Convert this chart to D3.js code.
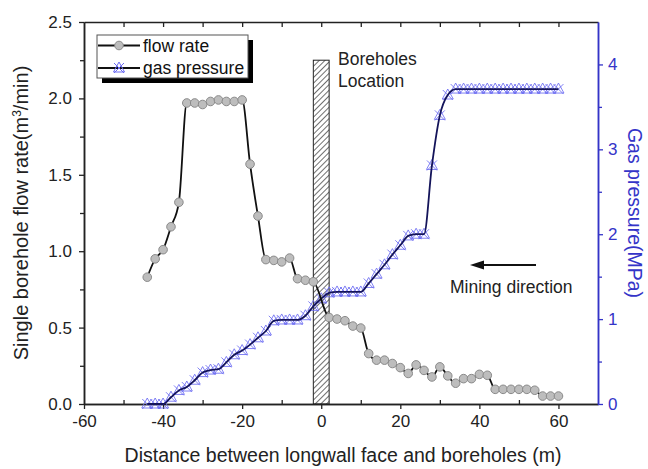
<!DOCTYPE html>
<html>
<head>
<meta charset="utf-8">
<script src="https://cdn.jsdelivr.net/npm/d3@7/dist/d3.min.js"></script>
<style>
  html, body { margin: 0; padding: 0; background: #fff; }
  svg { display: block; font-family: "Liberation Sans", Arial, Helvetica, sans-serif; }
</style>
</head>
<body>
<svg id="chart" width="648" height="469"></svg>
<script>
// Distance between longwall face and boreholes (m)
const flowDistance = [-44, -42, -40, -38, -36, -34, -32, -30, -28, -26, -24, -22, -20, -18, -16, -14, -12, -10, -8, -6, -4, -2,
  2, 4, 6, 8, 10, 12, 14, 16, 18, 20, 22, 24, 26, 28, 30, 32, 34, 36, 38, 40, 42, 44, 46, 48, 50, 52, 54, 56, 58, 60];
// Single borehole flow rate (m3/min)
const flowRate = [0.83, 0.95, 1.01, 1.16, 1.32, 1.97, 1.97, 1.96, 1.98, 1.99, 1.98, 1.98, 1.99, 1.57, 1.23, 0.945, 0.94, 0.93, 0.955, 0.82, 0.81, 0.80,
  0.566, 0.556, 0.545, 0.51, 0.497, 0.33, 0.287, 0.287, 0.265, 0.238, 0.20, 0.256, 0.22, 0.177, 0.243, 0.184, 0.136, 0.166, 0.166, 0.194, 0.188,
  0.096, 0.096, 0.096, 0.096, 0.096, 0.09, 0.052, 0.052, 0.052];

const gasDistance = [-44, -42, -40, -38, -36, -34, -32, -30, -28, -26, -24, -22, -20, -18, -16, -14, -12, -10, -8, -6, -4, -2, 0,
  2, 4, 6, 8, 10, 12, 14, 16, 18, 20, 22, 24, 26, 28, 30, 32, 34, 36, 38, 40, 42, 44, 46, 48, 50, 52, 54, 56, 58, 60];
// Gas pressure (MPa)
const gasPressure = [0, 0, 0, 0.08, 0.16, 0.2, 0.28, 0.37, 0.4, 0.41, 0.49, 0.58, 0.63, 0.7, 0.78, 0.86, 0.98, 0.99, 0.99, 0.99, 1.04, 1.15, 1.24,
  1.31, 1.32, 1.32, 1.32, 1.32, 1.42, 1.53, 1.64, 1.76, 1.87, 1.98, 2.0, 2.0, 2.81, 3.40, 3.64, 3.71, 3.71, 3.71, 3.71, 3.71, 3.71, 3.71, 3.71,
  3.71, 3.71, 3.71, 3.71, 3.71, 3.71];

const xTicks = [-60, -40, -20, 0, 20, 40, 60];
const xMinorTicks = [-50, -30, -10, 10, 30, 50];
const xTopTicks = [-50, -40, -30, -20, -10, 0, 10, 20, 30, 40, 50, 60];
const flowTicks = [0, 0.5, 1.0, 1.5, 2.0, 2.5];
const flowMinorTicks = [0.25, 0.75, 1.25, 1.75, 2.25];
const gasTicks = [0, 1, 2, 3, 4];
const gasMinorTicks = [0.5, 1.5, 2.5, 3.5];

// Boreholes location band: distance range and height on the flow-rate axis
const boreholeBand = [-2, 2];
const boreholeTop = 2.25;

const svg = d3.select("#chart");
const plot = { left: 84, right: 598, top: 22, bottom: 404 };
const blue = "#3434c8";

const x = d3.scaleLinear().domain([-60, 70]).range([plot.left, plot.right]);
const yFlow = d3.scaleLinear().domain([0, 2.5]).range([plot.bottom, plot.top]);
const yGas = d3.scaleLinear().domain([0, 4.5]).range([plot.bottom, plot.top]);

// hatch pattern for the borehole band
const defs = svg.append("defs");
const pat = defs.append("pattern")
  .attr("id", "hatch").attr("patternUnits", "userSpaceOnUse")
  .attr("width", 4).attr("height", 4)
  .attr("patternTransform", "rotate(45)");
pat.append("rect").attr("width", 4).attr("height", 4).attr("fill", "#fff");
pat.append("line").attr("x1", 0).attr("y1", 0).attr("x2", 0).attr("y2", 4)
  .attr("stroke", "#222").attr("stroke-width", 1.3);

svg.append("rect")
  .attr("x", x(boreholeBand[0])).attr("y", yFlow(boreholeTop))
  .attr("width", x(boreholeBand[1]) - x(boreholeBand[0]))
  .attr("height", yFlow(0) - yFlow(boreholeTop))
  .attr("fill", "url(#hatch)").attr("stroke", "#222").attr("stroke-width", 1);

// axes
const fontTick = 17;
const hyphenFormat = d => (d < 0 ? "-" : "") + Math.abs(d);
function styleAxis(g, color) {
  g.selectAll("path.domain").attr("stroke", color).attr("stroke-width", 1.5);
  g.selectAll(".tick line").attr("stroke", color).attr("stroke-width", 1.3);
  g.selectAll(".tick text").attr("fill", color).style("font-size", fontTick + "px")
    .style("font-family", "'Liberation Sans', Arial, sans-serif");
}

const gBottom = svg.append("g").attr("transform", `translate(0,${plot.bottom})`)
  .call(d3.axisBottom(x).tickValues(xTicks).tickSize(5).tickSizeOuter(0).tickPadding(6).tickFormat(hyphenFormat));
styleAxis(gBottom, "#222");
const gBottomMinor = svg.append("g").attr("transform", `translate(0,${plot.bottom})`)
  .call(d3.axisBottom(x).tickValues(xMinorTicks).tickSize(-4).tickSizeOuter(0).tickFormat(""));
styleAxis(gBottomMinor, "#222");

const gTop = svg.append("g").attr("transform", `translate(0,${plot.top})`)
  .call(d3.axisTop(x).tickValues(xTopTicks).tickSize(-5).tickSizeOuter(0).tickFormat(""));
styleAxis(gTop, "#222");

const gLeft = svg.append("g").attr("transform", `translate(${plot.left},0)`)
  .call(d3.axisLeft(yFlow).tickValues(flowTicks).tickSize(5).tickSizeOuter(0).tickPadding(7).tickFormat(d3.format(".1f")));
styleAxis(gLeft, "#222");
const gLeftMinor = svg.append("g").attr("transform", `translate(${plot.left},0)`)
  .call(d3.axisLeft(yFlow).tickValues(flowMinorTicks).tickSize(4).tickSizeOuter(0).tickFormat(""));
styleAxis(gLeftMinor, "#222");

const gRight = svg.append("g").attr("transform", `translate(${plot.right},0)`)
  .call(d3.axisRight(yGas).tickValues(gasTicks).tickSize(5).tickSizeOuter(0).tickPadding(5).tickFormat(d3.format("d")));
styleAxis(gRight, blue);
const gRightMinor = svg.append("g").attr("transform", `translate(${plot.right},0)`)
  .call(d3.axisRight(yGas).tickValues(gasMinorTicks).tickSize(4).tickSizeOuter(0).tickFormat(""));
styleAxis(gRightMinor, blue);

// gas pressure series
const gasPts = gasDistance.map((d, i) => [d, gasPressure[i]]);
const gasMarker = "M-5,-5L5,5M-5,5L5,-5M0,-6L5.5,4L-5.5,4Z";
svg.append("g").selectAll("path").data(gasPts).join("path")
  .attr("transform", d => `translate(${x(d[0])},${yGas(d[1])})`)
  .attr("d", gasMarker)
  .attr("fill", "none").attr("stroke", "#6b6bf2").attr("stroke-width", 1).attr("stroke-opacity", 0.85);
svg.append("path")
  .datum(gasPts)
  .attr("d", d3.line().x(d => x(d[0])).y(d => yGas(d[1])).curve(d3.curveMonotoneX))
  .attr("fill", "none").attr("stroke", "#14145a").attr("stroke-width", 1.8);

// flow rate series
const flowPts = flowDistance.map((d, i) => [d, flowRate[i]]);
svg.append("path")
  .datum(flowPts)
  .attr("d", d3.line().x(d => x(d[0])).y(d => yFlow(d[1])).curve(d3.curveMonotoneX))
  .attr("fill", "none").attr("stroke", "#111").attr("stroke-width", 1.8);
svg.append("g").selectAll("circle").data(flowPts).join("circle")
  .attr("cx", d => x(d[0])).attr("cy", d => yFlow(d[1])).attr("r", 4.3)
  .attr("fill", "#bdbdbd").attr("stroke", "#8a8a8a").attr("stroke-width", 1);

// legend
const lg = svg.append("g");
lg.append("rect").attr("x", 102).attr("y", 40).attr("width", 151).attr("height", 43).attr("fill", "#000");
lg.append("rect").attr("x", 97).attr("y", 35).attr("width", 151).attr("height", 43)
  .attr("fill", "#fff").attr("stroke", "#555").attr("stroke-width", 1);
lg.append("line").attr("x1", 98).attr("x2", 140).attr("y1", 45.5).attr("y2", 45.5).attr("stroke", "#111").attr("stroke-width", 1.8);
lg.append("circle").attr("cx", 119).attr("cy", 45.5).attr("r", 4.3).attr("fill", "#bdbdbd").attr("stroke", "#8a8a8a");
lg.append("line").attr("x1", 98).attr("x2", 140).attr("y1", 68).attr("y2", 68).attr("stroke", "#111").attr("stroke-width", 1.8);
lg.append("path").attr("transform", "translate(119,68)").attr("d", gasMarker)
  .attr("fill", "none").attr("stroke", "#6b6bf2").attr("stroke-width", 1);
lg.append("text").attr("x", 143).attr("y", 51.5).text("flow rate").style("font-size", "17.5px").attr("fill", "#111");
lg.append("text").attr("x", 143).attr("y", 74).text("gas pressure").style("font-size", "17.5px").attr("fill", "#111");

// annotations
svg.append("text").attr("x", 338).attr("y", 65).text("Boreholes").style("font-size", "17.5px").attr("fill", "#222");
svg.append("text").attr("x", 338).attr("y", 87).text("Location").style("font-size", "17.5px").attr("fill", "#222");

svg.append("line").attr("x1", 536).attr("x2", 480).attr("y1", 265).attr("y2", 265)
  .attr("stroke", "#111").attr("stroke-width", 2.2);
svg.append("path").attr("d", "M470,265L484,260.5L484,269.5Z").attr("fill", "#111");
svg.append("text").attr("x", 450).attr("y", 293).text("Mining direction").style("font-size", "17.5px").attr("fill", "#222");

// axis titles
svg.append("text").attr("x", 343).attr("y", 462).attr("text-anchor", "middle")
  .text("Distance between longwall face and boreholes (m)").style("font-size", "19.5px").attr("fill", "#222");

const yTitle = svg.append("text").attr("transform", `translate(28,${(plot.top + plot.bottom) / 2}) rotate(-90)`)
  .attr("text-anchor", "middle").style("font-size", "20px").attr("fill", "#222");
yTitle.append("tspan").text("Single borehole flow rate(m");
yTitle.append("tspan").text("3").attr("dy", -7).style("font-size", "12px");
yTitle.append("tspan").text("/min)").attr("dy", 7);

svg.append("text").attr("transform", `translate(628,${(plot.top + plot.bottom) / 2}) rotate(90)`)
  .attr("text-anchor", "middle").text("Gas pressure(MPa)").style("font-size", "19.5px").attr("fill", blue);
</script>
</body>
</html>
